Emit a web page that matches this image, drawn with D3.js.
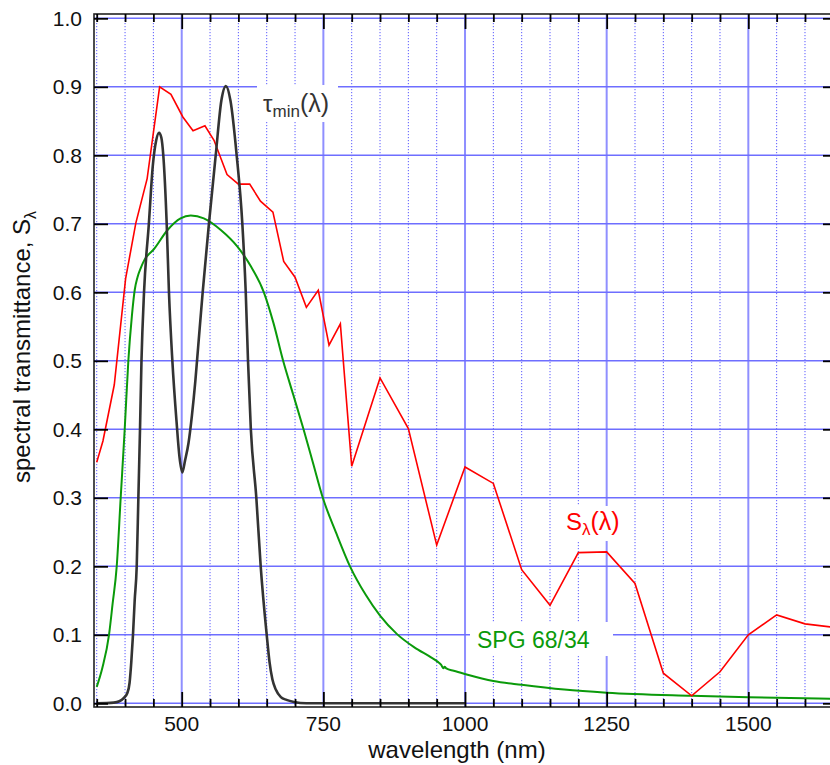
<!DOCTYPE html>
<html>
<head>
<meta charset="utf-8">
<script src="https://cdnjs.cloudflare.com/ajax/libs/d3/7.8.5/d3.min.js"></script>
<style>
  html, body { margin: 0; padding: 0; background: #fff; }
  svg { display: block; font-family: "Liberation Sans", Arial, Helvetica, sans-serif; }
</style>
</head>
<body>
<svg id="chart" width="830" height="765"></svg>
<script>
// ---------------- data ----------------
const sWavelengths = [350, 361, 381, 401, 419, 439, 461, 481, 502, 520, 541, 557, 580, 600, 620, 639, 661, 680, 700, 720, 741, 760, 780, 800, 850, 900, 950, 1000, 1050, 1100, 1150, 1200, 1250, 1300, 1350, 1400, 1450, 1500, 1550, 1600, 1650];
const sValues      = [0.352, 0.383, 0.465, 0.620, 0.701, 0.766, 0.900, 0.889, 0.856, 0.836, 0.843, 0.822, 0.772, 0.758, 0.758, 0.733, 0.717, 0.645, 0.622, 0.578, 0.603, 0.523, 0.554, 0.346, 0.475, 0.401, 0.231, 0.345, 0.321, 0.195, 0.143, 0.220, 0.221, 0.175, 0.044, 0.011, 0.046, 0.100, 0.129, 0.116, 0.111];

const tauWavelengths = [350, 380, 390, 398, 404, 408, 411, 414, 417, 420.6, 423.5, 426.4, 429, 433.5, 442, 449, 455, 460, 464, 467.5, 473.5, 477.5, 483.5, 491, 496, 501, 506, 512, 518, 524, 529, 537, 548, 560, 570, 578, 586, 597, 607, 613, 617, 622, 631.7, 639.4, 650, 655, 660, 666, 675, 685, 698, 720, 800, 1000];
const tauValues      = [0, 0.001, 0.003, 0.008, 0.015, 0.03, 0.06, 0.1, 0.15, 0.2, 0.3, 0.4, 0.5, 0.6, 0.7, 0.785, 0.822, 0.833, 0.826, 0.8, 0.7, 0.6, 0.5, 0.41, 0.36, 0.337, 0.355, 0.38, 0.42, 0.47, 0.52, 0.6, 0.7, 0.8, 0.88, 0.901, 0.88, 0.8, 0.7, 0.6, 0.5, 0.4, 0.3, 0.2, 0.1, 0.06, 0.035, 0.02, 0.009, 0.005, 0.002, 0.0, 0.0, 0.0];

const spgWavelengths = [350, 360, 371.7, 378, 385.3, 392.3, 399.4, 405.8, 412, 417, 422, 428, 434, 451, 475, 498, 516, 539, 569, 598, 622, 645, 662, 679, 697, 715, 732, 749, 772, 797, 825, 850, 880, 910, 940, 952, 958, 962, 964, 967, 980, 1000, 1050, 1100, 1175, 1250, 1400, 1500, 1650];
const spgValues      = [0.024, 0.052, 0.1, 0.145, 0.2, 0.3, 0.4, 0.5, 0.565, 0.603, 0.622, 0.636, 0.647, 0.663, 0.691, 0.708, 0.712, 0.708, 0.691, 0.667, 0.638, 0.600, 0.555, 0.5, 0.45, 0.4, 0.35, 0.3, 0.25, 0.2, 0.158, 0.128, 0.101, 0.082, 0.067, 0.0605, 0.056, 0.051, 0.0535, 0.051, 0.0475, 0.0428, 0.0326, 0.027, 0.020, 0.0155, 0.011, 0.0088, 0.0067];

const xMajorTicks = [500, 750, 1000, 1250, 1500];
const xMinorTicks = [350, 400, 450, 550, 600, 650, 700, 800, 850, 900, 950, 1050, 1100, 1150, 1200, 1300, 1350, 1400, 1450, 1550, 1600, 1650];
const yTicks = [0, 0.1, 0.2, 0.3, 0.4, 0.5, 0.6, 0.7, 0.8, 0.9, 1.0];
const yTickLabels = ["0.0", "0.1", "0.2", "0.3", "0.4", "0.5", "0.6", "0.7", "0.8", "0.9", "1.0"];

// ---------------- layout ----------------
const L = 94, R = 837, T = 14, B = 707;
const x = d3.scaleLinear().domain([345.2, 1656.5]).range([L, R]);
const y = d3.scaleLinear().domain([-0.0054, 1.0063]).range([B, T]);

const svg = d3.select("#chart");
const FONT = '"Liberation Sans", Arial, Helvetica, sans-serif';

svg.append("defs").append("clipPath").attr("id", "plotclip")
  .append("rect").attr("x", L).attr("y", T).attr("width", R - L).attr("height", B - T);

// gridlines
const grid = svg.append("g");
grid.selectAll("line.minor").data(xMinorTicks).join("line")
  .attr("x1", d => x(d)).attr("x2", d => x(d)).attr("y1", T).attr("y2", B)
  .attr("stroke", "#5a5aff").attr("stroke-width", 1).attr("stroke-dasharray", "1.2,1.8");
grid.selectAll("line.major").data(xMajorTicks).join("line")
  .attr("x1", d => x(d)).attr("x2", d => x(d)).attr("y1", T).attr("y2", B)
  .attr("stroke", "#8f8fff").attr("stroke-width", 2);
grid.selectAll("line.h").data(yTicks).join("line")
  .attr("x1", L).attr("x2", R).attr("y1", d => y(d)).attr("y2", d => y(d))
  .attr("stroke", "#6e6eff").attr("stroke-width", 1.6);

// white label boxes (interrupt grid)
const boxes = [
  {x0: 257, y0: 85, x1: 338, y1: 122},
  {x0: 558, y0: 506, x1: 632, y1: 541},
  {x0: 470, y0: 622, x1: 613, y1: 656}
];
svg.append("g").selectAll("rect").data(boxes).join("rect")
  .attr("x", d => d.x0).attr("y", d => d.y0)
  .attr("width", d => d.x1 - d.x0).attr("height", d => d.y1 - d.y0)
  .attr("fill", "#fff");

// curves
const plot = svg.append("g").attr("clip-path", "url(#plotclip)");
const mk = (xs, ys) => xs.map((d, i) => [d, ys[i]]);

plot.append("path").datum(mk(spgWavelengths, spgValues))
  .attr("fill", "none").attr("stroke", "#0a9a0a").attr("stroke-width", 2)
  .attr("d", d3.line().x(d => x(d[0])).y(d => y(d[1])).curve(d3.curveMonotoneX));

plot.append("path").datum(mk(sWavelengths, sValues))
  .attr("fill", "none").attr("stroke", "#ff0000").attr("stroke-width", 1.6)
  .attr("stroke-linejoin", "miter")
  .attr("d", d3.line().x(d => x(d[0])).y(d => y(d[1])));

plot.append("path").datum(mk(tauWavelengths, tauValues))
  .attr("fill", "none").attr("stroke", "#333333").attr("stroke-width", 2.6)
  .attr("d", d3.line().x(d => x(d[0])).y(d => y(d[1])).curve(d3.curveMonotoneX));

// frame
svg.append("rect").attr("x", L).attr("y", T).attr("width", R - L).attr("height", B - T)
  .attr("fill", "none").attr("stroke", "#222").attr("stroke-width", 1.6);

// axes via d3
const fmtY = d => yTickLabels[yTicks.indexOf(d)];
const axL = svg.append("g").attr("transform", `translate(${L},0)`)
  .call(d3.axisRight(y).tickValues(yTicks).tickSize(14).tickFormat(""));
const axR = svg.append("g").attr("transform", `translate(${R},0)`)
  .call(d3.axisLeft(y).tickValues(yTicks).tickSize(14).tickFormat(""));
const axBmaj = svg.append("g").attr("transform", `translate(0,${B})`)
  .call(d3.axisTop(x).tickValues(xMajorTicks).tickSize(15).tickFormat(""));
const axBmin = svg.append("g").attr("transform", `translate(0,${B})`)
  .call(d3.axisTop(x).tickValues(xMinorTicks).tickSize(8).tickFormat(""));
const axTmaj = svg.append("g").attr("transform", `translate(0,${T})`)
  .call(d3.axisBottom(x).tickValues(xMajorTicks).tickSize(15).tickFormat(""));
const axTmin = svg.append("g").attr("transform", `translate(0,${T})`)
  .call(d3.axisBottom(x).tickValues(xMinorTicks).tickSize(8).tickFormat(""));
[axL, axR, axBmaj, axBmin, axTmaj, axTmin].forEach(g => {
  g.select(".domain").remove();
  g.selectAll(".tick line").attr("stroke", "#000").attr("stroke-width", 1.8);
});

// tick labels
svg.append("g").selectAll("text").data(yTicks).join("text")
  .attr("x", 82).attr("y", d => y(d)).attr("dy", "0.36em")
  .attr("text-anchor", "end").attr("font-size", 21).attr("fill", "#111")
  .style("font-family", FONT)
  .text(fmtY);
svg.append("g").selectAll("text").data(xMajorTicks).join("text")
  .attr("x", d => x(d)).attr("y", 731)
  .attr("text-anchor", "middle").attr("font-size", 21).attr("fill", "#111")
  .style("font-family", FONT)
  .text(d => String(d));

// axis titles
svg.append("text").attr("x", 457).attr("y", 758).attr("text-anchor", "middle")
  .attr("font-size", 24).attr("fill", "#111").style("font-family", FONT)
  .text("wavelength (nm)");
const yt = svg.append("text").attr("transform", "translate(30,483) rotate(-90)")
  .attr("text-anchor", "start").attr("font-size", 24).attr("fill", "#111").style("font-family", FONT);
yt.append("tspan").text("spectral transmittance, S");
yt.append("tspan").attr("dy", 6).attr("font-size", 16).text("λ");

// in-plot labels
const t1 = svg.append("text").attr("x", 263).attr("y", 112).attr("fill", "#333")
  .attr("font-size", 24).style("font-family", FONT);
t1.append("tspan").text("τ");
t1.append("tspan").attr("dy", 5).attr("font-size", 17).text("min");
t1.append("tspan").attr("dy", -5).attr("font-size", 25).text("(λ)");

const t2 = svg.append("text").attr("x", 566).attr("y", 530).attr("fill", "#ff0000")
  .attr("font-size", 24).style("font-family", FONT);
t2.append("tspan").text("S");
t2.append("tspan").attr("dy", 5).attr("font-size", 17).text("λ");
t2.append("tspan").attr("dy", -5).attr("font-size", 25).text("(λ)");

svg.append("text").attr("x", 477).attr("y", 648).attr("fill", "#0a9a0a")
  .attr("font-size", 23).style("font-family", FONT).text("SPG 68/34");
</script>
</body>
</html>
